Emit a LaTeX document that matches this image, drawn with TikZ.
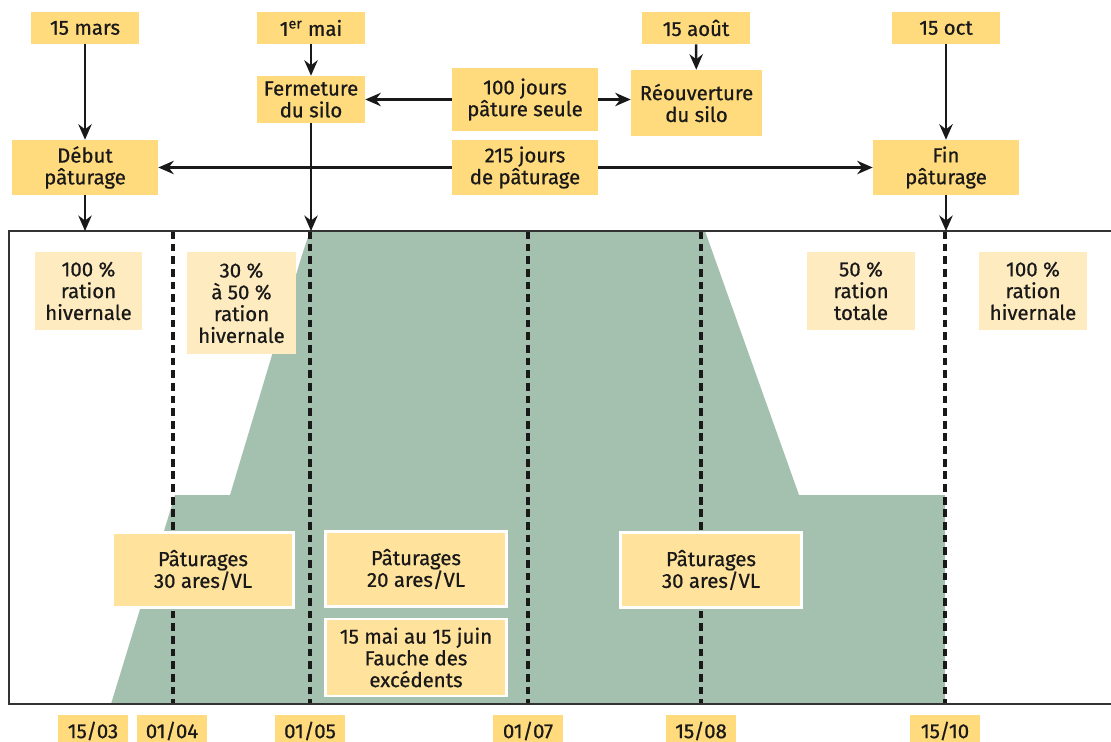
\documentclass[tikz,border=0pt]{standalone}
\usepackage{fontspec}
\setmainfont{Fira Sans}[FakeBold=0.7]
\usepackage{tikz}
\usetikzlibrary{positioning}
\usetikzlibrary{arrows.meta}

\definecolor{jaune}{HTML}{FFDB7D}
\definecolor{jauneclair}{HTML}{FEEBC0}
\definecolor{jaunebox}{HTML}{FFE29C}
\definecolor{prairie}{HTML}{A4C1AF}

\begin{document}
\begin{tikzpicture}
  [ x=0.025cm, y=-0.025cm,
    every node/.style={font=\fontsize{14.5}{15.5}\selectfont, align=center,
      inner sep=0pt, text=black!90},
    date/.style={fill=jaune, minimum width=2.7cm, minimum height=0.8cm},
    evt/.style={fill=jaune, minimum width=3.65cm, minimum height=1.375cm},
    ration/.style={fill=jauneclair, minimum width=2.675cm, minimum height=1.95cm},
    surf/.style={fill=jaunebox, draw=white, line width=1.5pt,
      minimum width=4.525cm, minimum height=1.875cm},
    jour/.style={fill=jaune, minimum width=1.75cm, minimum height=0.8cm},
    fl/.style={-{Stealth[length=11pt,width=9.5pt]}, line width=1.8pt, black!90},
    limite/.style={dash pattern=on 5.5pt off 3.5pt, line width=2.2pt, black!90}
  ]
  \useasboundingbox (0,0) rectangle (1111,742);
  \clip (0,0) rectangle (1111,742);

  % surface en herbe
  \fill [prairie] (111,704) -- (175,495) -- (230,495) -- (302,255)
    -- (310,231) -- (705,231) -- (799,495) -- (945,495) -- (945,704) -- cycle;

  \foreach \x in {173,310,528,701,945}
    \draw [limite] (\x,231) -- (\x,704);

  \draw [line width=0.9pt, black!80] (1111,231) -- (9,231) -- (9,704) -- (1111,704);

  \coordinate (hd) at (85,231);
  \coordinate (hm) at (311,231);
  \coordinate (hf) at (946,231);

  \node (mars)  at ( 85,28) [date] {15 mars};
  \node (mai)   at (311,28) [date] {1\textsuperscript{er} mai};
  \node (aout)  at (696,28) [date] {15 août};
  \node (oct)   at (946,28) [date] {15 oct};

  \node (ferm)  at (311,99.5) [date, minimum height=1.175cm] {Fermeture\\du silo};
  \node (cent)  at (525,99.5) [evt, minimum height=1.575cm] {100 jours\\pâture seule};
  \node (reouv) at (696.5,103) [evt, minimum width=3.275cm, minimum height=1.65cm] {Réouverture\\du silo};

  \node (debut) at ( 85,167.5) [evt] {Début\\pâturage};
  \node (deux)  at (525,167.5) [evt] {215 jours\\de pâturage};
  \node (fin)   at (946,167.5) [evt] {Fin\\pâturage};

  \node (r1) at (88.5,291) [ration] {100 \%\\ration\\hivernale};
  \node (r2) at (241.5,303) [ration, minimum width=2.725cm, minimum height=2.55cm] {30 \%\\à 50 \%\\ration\\hivernale};
  \node (r3) at (861,291)  [ration] {50 \%\\ration\\totale};
  \node (r4) at (1033,291) [ration] {100 \%\\ration\\hivernale};

  \node (p1)     at (203,570)   [surf] {Pâturages\\30 ares/VL};
  \node (p2)     at (416,569)   [surf] {Pâturages\\20 ares/VL};
  \node (fauche) at (416,657.5) [surf, minimum height=1.925cm] {15 mai au 15 juin\\Fauche des\\excédents};
  \node (p3)     at (711,570)   [surf] {Pâturages\\30 ares/VL};

  \node (j1) at ( 93,731) [jour] {15/03};
  \node (j2) at (172,731) [jour] {01/04};
  \node (j3) at (310,731) [jour] {01/05};
  \node (j4) at (528,731) [jour] {01/07};
  \node (j5) at (701,731) [jour] {15/08};
  \node (j6) at (945,731) [jour] {15/10};

  \draw [fl] (mars) -- (debut);
  \draw [fl] (mai) -- (ferm);
  \draw [fl] (aout) -- (reouv);
  \draw [fl] (oct) -- (fin);

  \draw [fl] (cent) -- (ferm);
  \draw [fl] (cent) -- (cent -| reouv.west);
  \draw [fl] (deux) -- (debut);
  \draw [fl] (deux) -- (fin);

  \draw [fl] (debut) -- (hd);
  \draw [fl] (ferm) -- (hm);
  \draw [fl] (fin) -- (hf);
\end{tikzpicture}
\end{document}
